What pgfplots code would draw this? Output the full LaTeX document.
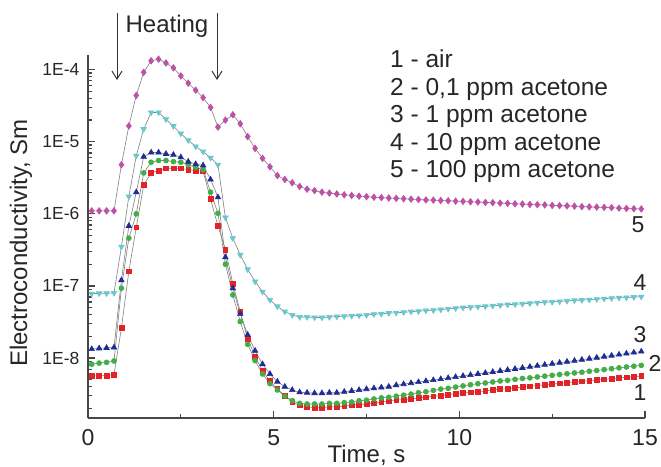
\documentclass[border=0pt]{standalone}
\usepackage{fontspec}
\setmainfont{Liberation Sans}
\usepackage{pgfplots}
\usepackage{pgfplotstable}
\pgfplotsset{compat=1.18}
\usetikzlibrary{arrows.meta}

\definecolor{cR}{RGB}{226,35,40}
\definecolor{cG}{RGB}{65,175,70}
\definecolor{cB}{RGB}{30,45,150}
\definecolor{cC}{RGB}{105,200,205}
\definecolor{cM}{RGB}{190,80,170}
\definecolor{axc}{RGB}{70,70,70}

% t = time (s); r,g,b,c,m = curves 1..5
\pgfplotstableread{
t    r        g        b         c        m
0.1  5.6e-9   8.2e-9   1.33e-8   7.8e-8   1.1e-6
0.3  5.7e-9   8.5e-9   1.36e-8   7.9e-8   1.1e-6
0.5  5.7e-9   8.7e-9   1.38e-8   7.9e-8   1.1e-6
0.7  5.9e-9   9.1e-9   1.40e-8   8.0e-8   1.1e-6
0.9  2.6e-8   9.3e-8   1.2e-7    3.5e-7   4.8e-6
1.1  1.6e-7   4.6e-7   6.8e-7    1.74e-6  1.66e-5
1.3  6.5e-7   1.0e-6   2.0e-6    6.4e-6   4.4e-5
1.5  2.5e-6   3.7e-6   6.2e-6    1.5e-5   9.2e-5
1.7  3.7e-6   5.2e-6   7.1e-6    2.55e-5  1.33e-4
1.9  4.0e-6   5.5e-6   7.1e-6    2.55e-5  1.4e-4
2.1  4.3e-6   5.5e-6   6.8e-6    2.05e-5  1.24e-4
2.3  4.3e-6   5.3e-6   6.6e-6    1.65e-5  1.06e-4
2.5  4.3e-6   5.2e-6   6.1e-6    1.3e-5   8.2e-5
2.7  4.1e-6   4.8e-6   5.3e-6    1.05e-5  6.5e-5
2.9  4.0e-6   4.45e-6  4.9e-6    8.6e-6   5.2e-5
3.1  3.9e-6   4.1e-6   4.7e-6    7.3e-6   4.1e-5
3.3  1.6e-6   2.0e-6   3.0e-6    6.0e-6   3.0e-5
3.5  6.8e-7   1.02e-6  1.7e-6    4.8e-6   1.6e-5
3.7  3.2e-7   2.0e-7   2.5e-7    8.9e-7   2.0e-5
3.9  1.07e-7  7.5e-8   9.3e-8    4.6e-7   2.37e-5
4.1  4.4e-8   3.2e-8   4.1e-8    2.7e-7   1.78e-5
4.3  1.85e-8  1.55e-8  2.1e-8    1.7e-7   1.18e-5
4.5  1.05e-8  9.2e-9   1.26e-8   1.15e-7  8.1e-6
4.7  6.6e-9   6.0e-9   8.2e-9    8.3e-8   5.9e-6
4.9  4.8e-9   4.4e-9   6.0e-9    6.4e-8   4.5e-6
5.1  3.7e-9   3.6e-9   4.7e-9    5.2e-8   3.4e-6
5.3  3.0e-9   2.95e-9  4.0e-9    4.4e-8   3.0e-6
5.5  2.45e-9  2.56e-9  3.6e-9    3.95e-8  2.7e-6
5.7  2.2e-9   2.35e-9  3.35e-9   3.7e-8   2.4e-6
5.9  2.1e-9   2.3e-9   3.3e-9    3.7e-8   2.2e-6
6.1  2.05e-9  2.3e-9   3.25e-9   3.65e-8  2.1e-6
6.3  2.05e-9  2.3e-9   3.25e-9   3.65e-8  2.0e-6
6.5  2.1e-9   2.35e-9  3.3e-9    3.7e-8   1.94e-6
6.7  2.1e-9   2.35e-9  3.3e-9    3.75e-8  1.89e-6
6.9  2.15e-9  2.4e-9   3.4e-9    3.8e-8   1.84e-6
7.1  2.2e-9   2.45e-9  3.5e-9    3.85e-8  1.80e-6
7.3  2.25e-9  2.55e-9  3.6e-9    3.9e-8   1.76e-6
7.5  2.3e-9   2.6e-9   3.7e-9    3.95e-8  1.73e-6
7.7  2.35e-9  2.7e-9   3.8e-9    4.05e-8  1.70e-6
7.9  2.45e-9  2.8e-9   3.9e-9    4.1e-8   1.68e-6
8.1  2.5e-9   2.85e-9  4.0e-9    4.2e-8   1.66e-6
8.3  2.6e-9   2.95e-9  4.2e-9    4.25e-8  1.64e-6
8.5  2.65e-9  3.05e-9  4.34e-9   4.3e-8   1.62e-6
8.7  2.7e-9   3.15e-9  4.48e-9   4.4e-8   1.60e-6
8.9  2.8e-9   3.3e-9   4.63e-9   4.45e-8  1.58e-6
9.1  2.85e-9  3.4e-9   4.78e-9   4.55e-8  1.56e-6
9.3  2.95e-9  3.55e-9  4.94e-9   4.6e-8   1.55e-6
9.5  3.0e-9   3.7e-9   5.10e-9   4.7e-8   1.53e-6
9.7  3.1e-9   3.8e-9   5.27e-9   4.8e-8   1.52e-6
9.9  3.2e-9   3.95e-9  5.45e-9   4.9e-8   1.50e-6
10.1 3.25e-9  4.1e-9   5.63e-9   5.0e-8   1.49e-6
10.3 3.35e-9  4.25e-9  5.81e-9   5.05e-8  1.47e-6
10.5 3.4e-9   4.4e-9   6.01e-9   5.15e-8  1.46e-6
10.7 3.5e-9   4.5e-9   6.21e-9   5.2e-8   1.44e-6
10.9 3.6e-9   4.65e-9  6.41e-9   5.3e-8   1.43e-6
11.1 3.7e-9   4.8e-9   6.62e-9   5.4e-8   1.41e-6
11.3 3.75e-9  4.9e-9   6.84e-9   5.5e-8   1.40e-6
11.5 3.85e-9  5.05e-9  7.07e-9   5.55e-8  1.38e-6
11.7 3.95e-9  5.2e-9   7.30e-9   5.65e-8  1.37e-6
11.9 4.05e-9  5.3e-9   7.54e-9   5.75e-8  1.35e-6
12.1 4.15e-9  5.45e-9  7.79e-9   5.85e-8  1.34e-6
12.3 4.25e-9  5.6e-9   8.05e-9   5.95e-8  1.33e-6
12.5 4.35e-9  5.75e-9  8.32e-9   6.0e-8   1.31e-6
12.7 4.45e-9  5.9e-9   8.59e-9   6.1e-8   1.30e-6
12.9 4.55e-9  6.05e-9  8.88e-9   6.2e-8   1.29e-6
13.1 4.65e-9  6.2e-9   9.17e-9   6.3e-8   1.28e-6
13.3 4.75e-9  6.35e-9  9.47e-9   6.35e-8  1.26e-6
13.5 4.85e-9  6.55e-9  9.79e-9   6.45e-8  1.25e-6
13.7 4.95e-9  6.7e-9   1.011e-8  6.55e-8  1.24e-6
13.9 5.05e-9  6.9e-9   1.045e-8  6.65e-8  1.23e-6
14.1 5.15e-9  7.1e-9   1.079e-8  6.75e-8  1.22e-6
14.3 5.3e-9   7.3e-9   1.115e-8  6.85e-8  1.20e-6
14.5 5.4e-9   7.5e-9   1.152e-8  6.9e-8   1.19e-6
14.7 5.5e-9   7.7e-9   1.19e-8   7.0e-8   1.18e-6
14.9 5.6e-9   7.9e-9   1.23e-8   7.1e-8   1.17e-6
}\data

\begin{document}
\begin{tikzpicture}
\useasboundingbox (-88pt,-48pt) rectangle (573pt,418pt);
\begin{axis}[
  scale only axis,
  width=557pt, height=363pt,
  ymode=log,
  xmin=0, xmax=15,
  ymin=1.47e-9, ymax=1.6e-4,
  axis x line*=bottom,
  axis y line*=left,
  axis line style={line width=1.5pt, axc},
  tick align=inside,
  tick style={line width=1.2pt, axc},
  major tick length=7pt,
  minor tick length=4pt,
  xtick={0,5,10,15},
  xticklabels={0,5,10,15},
  minor xtick={2.5,7.5,12.5},
  ytick={1e-8,1e-7,1e-6,1e-5,1e-4},
  yticklabels={1E-8,1E-7,1E-6,1E-5,1E-4},
  minor ytick={2e-9,3e-9,4e-9,5e-9,6e-9,7e-9,8e-9,9e-9,
    2e-8,3e-8,4e-8,5e-8,6e-8,7e-8,8e-8,9e-8,
    2e-7,3e-7,4e-7,5e-7,6e-7,7e-7,8e-7,9e-7,
    2e-6,3e-6,4e-6,5e-6,6e-6,7e-6,8e-6,9e-6,
    2e-5,3e-5,4e-5,5e-5,6e-5,7e-5,8e-5,9e-5},
  xticklabel style={font=\fontsize{23}{23}\selectfont, text=black!85, yshift=-8pt},
  yticklabel style={font=\fontsize{17.5}{17.5}\selectfont, text=black!85, xshift=-5pt},
  xlabel={Time, s},
  ylabel={Electroconductivity, Sm},
  xlabel style={font=\fontsize{24}{24}\selectfont, text=black!85,
    at={(axis description cs:0.5,0)}, anchor=base, yshift=-44pt},
  ylabel style={font=\fontsize{24}{24}\selectfont, text=black!85,
    at={([xshift=-67pt]axis description cs:0,0.482)}, anchor=center},
  every axis plot/.append style={color=black!50, line width=0.6pt},
]
\addplot[mark=square*, mark size=2.4pt, mark options={fill=cR, draw=cR}]
  table[x=t, y=r] {\data};
\addplot[mark=*, mark size=2.5pt, mark options={fill=cG, draw=cG}]
  table[x=t, y=g] {\data};
\addplot[mark=triangle*, mark size=3.2pt, mark options={fill=cB, draw=cB}]
  table[x=t, y=b] {\data};
\addplot[mark=triangle*, mark size=3.2pt, mark options={fill=cC, draw=cC, rotate=180}]
  table[x=t, y=c] {\data};
\addplot[mark=diamond*, mark size=3.3pt, mark options={fill=cM, draw=cM}]
  table[x=t, y=m] {\data};
\end{axis}

% heating interval
\draw[line width=1pt, black!80, -{Straight Barb[length=8pt,width=10pt]}] (29pt,405pt) -- (29pt,338pt);
\draw[line width=1pt, black!80, -{Straight Barb[length=8pt,width=10pt]}] (129pt,405pt) -- (129pt,338pt);
\node[anchor=base, font=\fontsize{24}{24}\selectfont, text=black!85] at (79pt,385pt) {Heating};

% curve key
\node[anchor=north west, inner sep=0pt, align=left, text=black!85,
  font=\fontsize{24.5}{27.5}\selectfont] at (302pt,368pt)
  {1 - air\\2 - 0,1 ppm acetone\\3 - 1 ppm acetone\\4 - 10 ppm acetone\\5 - 100 ppm acetone};

% curve numbers
\begin{scope}[font=\fontsize{23}{23}\selectfont, text=black!85]
\node at (550pt,193pt) {5};
\node at (552pt,135pt) {4};
\node at (552pt,83pt) {3};
\node at (567pt,55pt) {2};
\node at (552pt,25pt) {1};
\end{scope}
\end{tikzpicture}
\end{document}
